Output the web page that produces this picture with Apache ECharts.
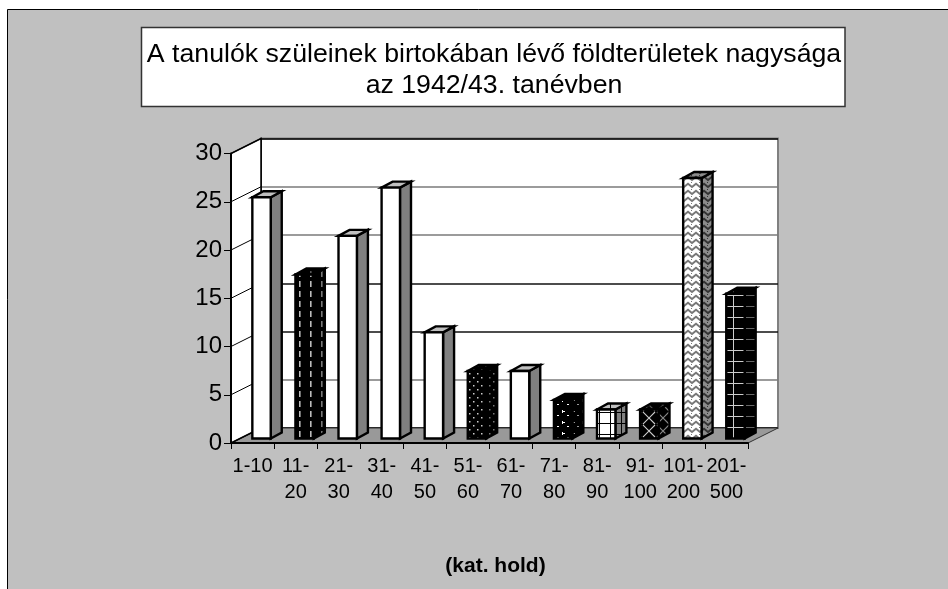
<!DOCTYPE html>
<html><head><meta charset="utf-8">
<style>html,body{margin:0;padding:0;background:#fff;overflow:hidden}#c{width:948px;height:589px}</style>
<script src="https://cdn.jsdelivr.net/npm/echarts@6/dist/echarts.min.js"></script>
</head><body><div id="c"></div>
<script>
const categories = ['1-10','11-\n20','21-\n30','31-\n40','41-\n50','51-\n60','61-\n70','71-\n80','81-\n90','91-\n100','101-\n200','201-\n500'];
const values = [25,17,21,26,11,7,7,4,3,3,27,15];
const fills = ['plain','dash','plain','plain','plain','dots','plain','tri','grid','lattice','chevron','bigGrid'];
const yTicks = [0,5,10,15,20,25,30];
const titleText = 'A tanulók szüleinek birtokában lévő földterületek nagysága\naz 1942/43. tanévben';
const xTitle = '(kat. hold)';

const FONT = '"Liberation Sans", Arial, sans-serif';
const DX = 30, DY = 15;               // depth of the box
const BAR_W = 18.4, BAR_DX = 11, BAR_DY = 6, FRONT_DX = 9, FRONT_DY = 4.5;

function pat(w, h, bg, draw) {
  const c = document.createElement('canvas'); c.width = w; c.height = h;
  const g = c.getContext('2d'); g.fillStyle = bg; g.fillRect(0, 0, w, h);
  draw(g); return { image: c, repeat: 'repeat' };
}
const makers = {
  dash: fg => pat(11, 10, '#000', g => { g.fillStyle = fg; g.fillRect(2, 1, 1.6, 6); }),
  dots: fg => pat(8, 8, '#000', g => { g.fillStyle = fg; g.fillRect(1, 1, 1.5, 1.5); g.fillRect(5, 5, 1.5, 1.5); }),
  tri: fg => pat(10, 11, '#000', g => { g.fillStyle = fg; g.fillRect(2, 3, 1, 3); g.fillRect(3, 4, 2, 1); g.fillRect(7, 8, 2, 1); }),
  grid: fg => pat(11, 11, fg, g => { g.fillStyle = '#000'; g.fillRect(5, 0, 1, 11); g.fillRect(0, 5, 11, 1); }),
  lattice: fg => pat(14, 13, '#000', g => {
    g.strokeStyle = fg; g.lineWidth = 1.1;
    [[5, 2], [5, 15], [19, 2], [19, 15], [-9, 2], [-9, 15]].forEach(([x, y]) => {
      g.beginPath(); g.moveTo(x - 6, y - 6); g.lineTo(x + 6, y + 6); g.moveTo(x + 6, y - 6); g.lineTo(x - 6, y + 6); g.stroke();
    });
  }),
  chevron: fg => pat(8, 7, fg === '#fff' ? '#fff' : '#8c8c8c', g => {
    g.strokeStyle = fg === '#fff' ? '#777' : '#333'; g.lineWidth = 2; g.beginPath();
    g.moveTo(-1, 1); g.lineTo(4, 5); g.lineTo(9, 1); g.stroke();
    g.fillStyle = g.strokeStyle; g.fillRect(3, 0, 1, 1);
  }),
  bigGrid: fg => pat(22, 11, '#000', g => { g.fillStyle = fg; g.fillRect(0, 9, 22, 1); g.fillRect(7, 0, 1, 11); })
};
const frontInk = { dash: '#bbb', dots: '#ccc', tri: '#fff', grid: '#fff', lattice: '#ccc', chevron: '#fff', bigGrid: '#ccc' };
const sideInk = { dash: '#777', dots: '#777', tri: '#999', grid: '#808080', lattice: '#888', chevron: '#888', bigGrid: '#666' };
const topInk = { dash: '#555', dots: '#555', tri: '#555', grid: '#c0c0c0', lattice: '#555', chevron: '#888', bigGrid: '#444' };
function faces(kind) {
  if (kind === 'plain') return { front: '#fff', side: '#808080', top: '#c0c0c0' };
  const m = makers[kind];
  return { front: m(frontInk[kind]), side: m(sideInk[kind]), top: m(topInk[kind]) };
}
const faceCache = fills.map(faces);

function shell(params, api) {
  const band = api.size([1, 0])[0];
  const a = api.coord([0, 0]), b = api.coord([categories.length - 1, 0]), t = api.coord([0, 30]);
  const L = a[0] - band / 2, R = b[0] + band / 2, Y0 = a[1], Y1 = t[1];
  return { type: 'group', children: [
    { type: 'polygon', shape: { points: [[L, Y0], [L + DX, Y0 - DY], [R + DX, Y0 - DY], [R, Y0]] },
      style: { fill: '#999999', stroke: '#333', lineWidth: 1 } },
    { type: 'polygon', shape: { points: [[L, Y0], [L + DX, Y0 - DY], [L + DX, Y1 - DY], [L, Y1]] },
      style: { fill: '#fff', stroke: '#000', lineWidth: 1.5 } }
  ] };
}
function wallLine(params, api) {
  const band = api.size([1, 0])[0];
  const p = api.coord([0, api.value(1)]);
  const L = p[0] - band / 2;
  return { type: 'line', shape: { x1: L, y1: p[1], x2: L + DX, y2: p[1] - DY }, style: { stroke: '#000', lineWidth: 1 } };
}
function bar(params, api) {
  const i = api.value(0), v = api.value(1);
  const top = api.coord([i, v]), base = api.coord([i, 0]);
  const x0 = top[0] + FRONT_DX - BAR_W / 2, x1 = x0 + BAR_W;
  const yT = top[1] - FRONT_DY, yB = base[1] - FRONT_DY;
  const f = faceCache[params.dataIndex];
  const line = { stroke: '#000', lineWidth: 2.4, lineJoin: 'miter' };
  return { type: 'group', children: [
    { type: 'polygon', shape: { points: [[x1, yT], [x1 + BAR_DX, yT - BAR_DY], [x1 + BAR_DX, yB - BAR_DY], [x1, yB]] },
      style: Object.assign({ fill: f.side }, line) },
    { type: 'polygon', shape: { points: [[x0, yT], [x0 + BAR_DX, yT - BAR_DY], [x1 + BAR_DX, yT - BAR_DY], [x1, yT]] },
      style: Object.assign({ fill: f.top }, line) },
    { type: 'polygon', shape: { points: [[x0, yT], [x1, yT], [x1, yB], [x0, yB]] },
      style: Object.assign({ fill: f.front }, line) }
  ] };
}

const GL = 231, GR = 748, GT = 153.5, GB = 443;
const W = 948, H = 589;
const gridColors = ['#000', '#7a7a7a', '#111', '#111', '#7a7a7a', '#7a7a7a', '#000'];

const chart = echarts.init(document.getElementById('c'), null, { renderer: 'canvas', width: W, height: H });
chart.setOption({
  animation: false,
  backgroundColor: '#fff',
  graphic: [
    { type: 'rect', z: -10, shape: { x: 7.5, y: 9.5, width: 960, height: 600 },
      style: { fill: '#c0c0c0', stroke: '#000', lineWidth: 1 } },
    { type: 'rect', z: -9, shape: { x: 141.5, y: 27.5, width: 703.5, height: 79 },
      style: { fill: '#fff', stroke: '#333', lineWidth: 1.5 } }
  ],
  title: [
    { text: titleText, left: 489, top: 34, textAlign: 'center',
      textStyle: { fontFamily: FONT, fontSize: 26.7, fontWeight: 'normal', color: '#000', lineHeight: 31 } },
    { text: xTitle, left: 490.5, top: 551, textAlign: 'center',
      textStyle: { fontFamily: FONT, fontSize: 21, fontWeight: 'bold', color: '#000' } }
  ],
  grid: [
    { left: GL + DX, right: W - GR - DX, top: GT - DY, bottom: H - GB + DY,
      show: true, backgroundColor: '#fff', borderColor: '#808080', borderWidth: 2 },
    { left: GL, right: W - GR, top: GT, bottom: H - GB }
  ],
  xAxis: [
    { gridIndex: 0, type: 'category', data: categories, axisLine: { show: false }, axisTick: { show: false },
      axisLabel: { show: false }, splitLine: { show: false } },
    { gridIndex: 1, type: 'category', data: categories, z: 5,
      axisLine: { lineStyle: { color: '#000', width: 2 } },
      axisTick: { show: true, length: 6, lineStyle: { color: '#000', width: 1 } },
      axisLabel: { interval: 0, margin: 10, fontFamily: FONT, fontSize: 20, lineHeight: 26, color: '#000', hideOverlap: false },
      splitLine: { show: false } }
  ],
  yAxis: [
    { gridIndex: 0, type: 'value', min: 0, max: 30, interval: 5,
      axisLine: { show: true, lineStyle: { color: '#000', width: 1.5 } }, axisTick: { show: false }, axisLabel: { show: false },
      splitLine: { show: true, lineStyle: { color: gridColors, width: 1.5 } } },
    { gridIndex: 1, type: 'value', min: 0, max: 30, interval: 5, z: 5,
      axisLine: { show: true, lineStyle: { color: '#000', width: 2 } },
      axisTick: { show: true, length: 7, lineStyle: { color: '#000', width: 1 } },
      axisLabel: { margin: 9, fontFamily: FONT, fontSize: 24, color: '#000' },
      splitLine: { show: false } }
  ],
  series: [
    { type: 'custom', name: 'shell', xAxisIndex: 1, yAxisIndex: 1, z: 1, silent: true, renderItem: shell, data: [[0, 0]] },
    { type: 'custom', name: 'walls', xAxisIndex: 1, yAxisIndex: 1, z: 2, silent: true, renderItem: wallLine,
      data: yTicks.map(t => [0, t]) },
    { type: 'custom', name: 'bars', xAxisIndex: 1, yAxisIndex: 1, z: 3, renderItem: bar,
      data: values.map((v, i) => [i, v]) }
  ]
});
</script></body></html>
